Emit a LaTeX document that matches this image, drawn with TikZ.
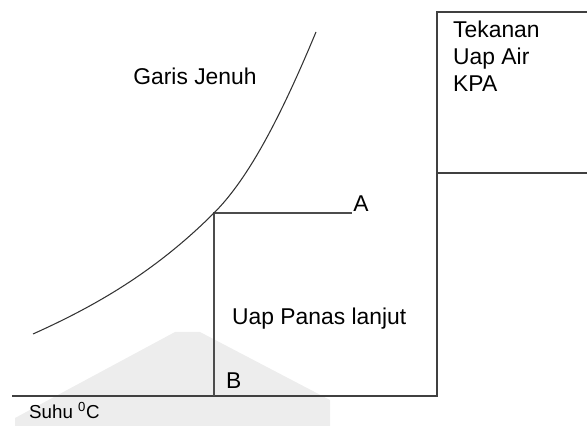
\documentclass[tikz,border=0pt]{standalone}
\usepackage{fontspec}
\setmainfont{Liberation Sans}
\usepackage{tikz}

\begin{document}
\begin{tikzpicture}[x=0.03cm,y=0.03cm,font=\fontsize{19.5}{23}\selectfont]
\useasboundingbox (0,0) rectangle (587,426);
% faint watermark behind the axes
\fill[gray!14] (175,94) -- (200,94) -- (330,26) -- (330,0) -- (15,0) -- (15,8) -- cycle;
\coordinate (O) at (12,30);
\coordinate (R) at (437,30);
\coordinate (B) at (214,30);
\coordinate (P) at (214,213);
\coordinate (A) at (352,213);
\coordinate (T) at (437,414);
\draw[black!75,line width=1.1pt] (O) -- (R) -- (T) -- (587,414);
\draw[black!75,line width=1.1pt] (437,253) -- (587,253);
\draw[black!70,line width=1.2pt] (B) -- (P) -- (A);
\draw[black!80,line width=0.9pt] (33,92) .. controls (93,119) and (154,153) .. (P)
  .. controls (249,248) and (281,310) .. (316,394);
\node[anchor=south west,inner sep=1pt] (lblA) at (A) {A};
\node[anchor=base west,inner sep=0pt] (lblB) at (226,37) {B};
\node (garis) at (195,350) {Garis Jenuh};
\node[anchor=base west,inner sep=0pt] (uap) at (232,101) {Uap Panas lanjut};
\node[anchor=base west,inner sep=0pt,font=\fontsize{16}{19}\selectfont] (suhu) at (29,7) {Suhu \textsuperscript{0}C};
\node[anchor=north west,inner sep=0pt,align=left] (tekanan) at (453,405) {Tekanan\\Uap Air\\KPA};
\end{tikzpicture}
\end{document}
